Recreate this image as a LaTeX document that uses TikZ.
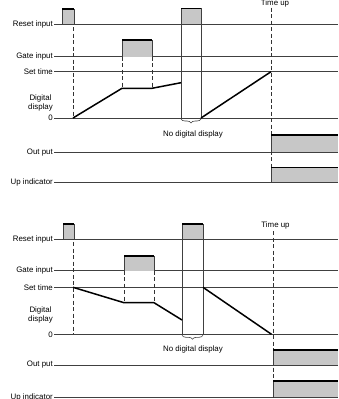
\documentclass[tikz,border=0pt]{standalone}
\usepackage{fontspec}
\setmainfont{Liberation Sans}
\usetikzlibrary{decorations.pathreplacing}

% shaded pulse: left x, right x, top y, base y
\newcommand\pulsebox[4]{%
  \fill[black!22] (#1,#3) rectangle (#2,#4);
  \draw[sig] (#1,#4) -- (#1,#3) (#2,#3) -- (#2,#4);
  \draw[ptop] (#1,#3) -- (#2,#3);}

\begin{document}
\begin{tikzpicture}[
  x=1pt,y=-1pt,
  font=\fontsize{7.9}{9}\selectfont,
  sig/.style={draw=black!75,line width=.55pt},
  trace/.style={draw=black,line width=1.5pt,line join=round},
  ptop/.style={draw=black,line width=1.3pt},
  marker/.style={draw=black!80,line width=.7pt,dash pattern=on 4pt off 2.5pt},
  lbl/.style={anchor=east,inner sep=1pt},
  gapbrace/.style={decorate,decoration={brace,mirror,amplitude=4pt},draw=black!75,line width=.6pt}
]
\useasboundingbox (0,0) rectangle (338,399);

% ---------- upper chart: counting up ----------
\foreach \name/\txt/\y in {resetA/Reset input/24.3,gateA/Gate input/56.7,setA/Set time/71.7,
                           zeroA/0/118,outA/Out put/152.3,upA/Up indicator/182.3}{
  \node[lbl] (\name) at (54,\y) {\txt};
  \draw[sig] (\name.east) -- (338,\y);
}
\node[lbl,align=center] (dispA) at (54,102.5) {Digital\\display};

\pulsebox{62}{74}{9}{24.3}
\pulsebox{122}{152}{40}{56.7}
\pulsebox{181}{201}{8.3}{24.3}
\draw[sig] (181,24.3) -- (181,118) (201,24.3) -- (201,118);

\draw[marker] (73,27) -- (73,118);
\draw[marker] (122,56.7) -- (122,88.3) (152,56.7) -- (152,88.3);

\draw[trace] (73,118) -- (122,88.3) -- (152,88.3) -- (181,82.7);
\draw[trace] (201,118) -- (271,71.7);

\draw[gapbrace] (181,119) -- (201,119);
\node (gapA) at (193,134) {No digital display};

\node (timeA) at (275,3) {Time up};
\draw[marker] (271,7.5) -- (271,182.3);

\fill[black!22] (271,135) rectangle (338,152.3);
\draw[sig] (271,152.3) -- (271,135);
\draw[ptop] (271,135) -- (338,135);
\fill[black!22] (271,167.7) rectangle (338,182.3);
\draw[sig] (271,182.3) -- (271,167.7);
\draw[ptop] (271,167.7) -- (338,167.7);

% ---------- lower chart: counting down ----------
\foreach \name/\txt/\y in {resetB/Reset input/239.3,gateB/Gate input/270.7,setB/Set time/287.3,
                           zeroB/0/334.3,outB/Out put/365,upB/Up indicator/397.3}{
  \node[lbl] (\name) at (54,\y) {\txt};
  \draw[sig] (\name.east) -- (338,\y);
}
\node[lbl,align=center] (dispB) at (54,315) {Digital\\display};

\pulsebox{63}{74}{224}{239.3}
\pulsebox{124}{154}{256}{270.7}
\pulsebox{182}{203}{224}{239.3}
\draw[sig] (182,239.3) -- (182,334.3) (203,239.3) -- (203,334.3);

\draw[marker] (73,242) -- (73,334.3);
\draw[marker] (124,270.7) -- (124,302.7) (154,270.7) -- (154,302.7);

\draw[trace] (73,287.3) -- (124,302.7) -- (154,302.7) -- (182,320);
\draw[trace] (203,287.3) -- (271.5,334.3);

\draw[gapbrace] (182,335.3) -- (203,335.3);
\node (gapB) at (193,349) {No digital display};

\node (timeB) at (275.5,225) {Time up};
\draw[marker] (273,231) -- (273,399);

\fill[black!22] (273,350) rectangle (338,365);
\draw[sig] (273,365) -- (273,350);
\draw[ptop] (273,350) -- (338,350);
\fill[black!22] (273,381) rectangle (338,397.3);
\draw[sig] (273,397.3) -- (273,381);
\draw[ptop] (273,381) -- (338,381);

\end{tikzpicture}
\end{document}
